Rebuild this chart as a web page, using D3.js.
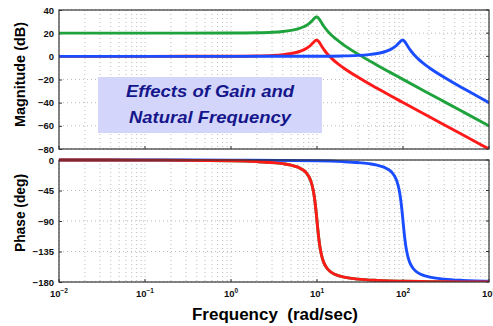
<!DOCTYPE html>
<html>
<head>
<meta charset="utf-8">
<script src="https://cdn.jsdelivr.net/npm/d3@7"></script>
<style>
  html, body { margin: 0; padding: 0; background: #fff; }
  svg { display: block; font-family: "Liberation Sans", Arial, Helvetica, sans-serif; }
</style>
</head>
<body>
<svg id="chart" width="493" height="326"></svg>
<script>
// ---------- Data ----------
// Frequencies (rad/sec) for the two curves with natural frequency 10 rad/s
const freqA = [0.01, 0.1, 1, 2, 3, 4, 5, 6, 7, 7.5, 8, 8.5, 9, 9.2, 9.5, 9.7, 9.8, 10, 10.2, 10.5, 10.8, 11, 11.5, 12, 13, 14, 15, 17, 20, 30, 50, 70, 100, 200, 300, 500, 1000];
const redMag = [0, 0.001, 0.09, 0.35, 0.80, 1.48, 2.42, 3.73, 5.53, 6.70, 8.09, 9.75, 11.64, 12.41, 13.41, 13.86, 13.98, 13.98, 13.64, 12.63, 11.29, 10.34, 8.04, 6.00, 2.65, 0.0, -2.18, -5.67, -9.62, -18.09, -27.61, -33.63, -39.91, -52.02, -59.08, -67.96, -80.0];
const greenMag = [20, 20.001, 20.09, 20.35, 20.80, 21.48, 22.42, 23.73, 25.53, 26.70, 28.09, 29.75, 31.64, 32.41, 33.41, 33.86, 33.98, 33.98, 33.64, 32.63, 31.29, 30.34, 28.04, 26.00, 22.65, 20.0, 17.82, 14.33, 10.38, 1.91, -7.61, -13.63, -19.91, -32.02, -39.08, -47.96, -60.0];
const redPhase = [-0.01, -0.11, -1.16, -2.39, -3.77, -5.44, -7.59, -10.62, -15.35, -18.92, -23.96, -31.49, -43.45, -50.14, -62.8, -73.06, -78.58, -90, -101.2, -116.0, -127.6, -133.67, -144.5, -151.4, -159.35, -163.74, -166.5, -169.8, -172.4, -175.7, -177.6, -178.33, -178.84, -179.43, -179.62, -179.77, -179.89];
const greenPhase = redPhase.slice();

// Frequencies (rad/sec) for the curve with natural frequency 100 rad/s
const freqB = [0.01, 0.1, 1, 10, 20, 30, 40, 50, 60, 70, 75, 80, 85, 90, 92, 95, 97, 98, 100, 102, 105, 108, 110, 115, 120, 130, 140, 150, 170, 200, 300, 500, 700, 1000];
const blueMag = [0, 0, 0.001, 0.09, 0.35, 0.80, 1.48, 2.42, 3.73, 5.53, 6.70, 8.09, 9.75, 11.64, 12.41, 13.41, 13.86, 13.98, 13.98, 13.64, 12.63, 11.29, 10.34, 8.04, 6.00, 2.65, 0.0, -2.18, -5.67, -9.62, -18.09, -27.61, -33.63, -39.91];
const bluePhase = [0, -0.01, -0.11, -1.16, -2.39, -3.77, -5.44, -7.59, -10.62, -15.35, -18.92, -23.96, -31.49, -43.45, -50.14, -62.8, -73.06, -78.58, -90, -101.2, -116.0, -127.6, -133.67, -144.5, -151.4, -159.35, -163.74, -166.5, -169.8, -172.4, -175.7, -177.6, -178.33, -178.84];

const xTickExps = [-2, -1, 0, 1, 2, 3];
const magTicks = [40, 20, 0, -20, -40, -60, -80];
const phaseTicks = [0, -45, -90, -135, -180];
const noteLines = ["Effects of Gain and", "Natural Frequency"];

// ---------- Layout ----------
const svg = d3.select("#chart");
const L = 59, R = 489;
const top1 = 10, bot1 = 149;
const top2 = 160, bot2 = 282;

const x = d3.scaleLog().domain([1e-2, 1e3]).range([L, R]);
const yMag = d3.scaleLinear().domain([-80, 40]).range([bot1, top1]);
const yPh = d3.scaleLinear().domain([-180, 0]).range([bot2, top2]);

const minorFreqs = [];
for (let e = -2; e < 3; e++) for (let m = 1; m <= 9; m++) minorFreqs.push(m * Math.pow(10, e));
minorFreqs.push(1000);

const fmtNum = v => (v < 0 ? "\u2212" + Math.abs(v) : String(v));

function panel(y, ticks, t, b, id) {
  const g = svg.append("g");
  // grid
  g.append("g").selectAll("line").data(minorFreqs).join("line")
    .attr("x1", d => x(d)).attr("x2", d => x(d))
    .attr("y1", t).attr("y2", b)
    .attr("stroke", "#aaaaaa").attr("stroke-width", 0.8).attr("stroke-dasharray", "1,3");
  g.append("g").selectAll("line").data(ticks).join("line")
    .attr("x1", L).attr("x2", R)
    .attr("y1", d => y(d)).attr("y2", d => y(d))
    .attr("stroke", "#aaaaaa").attr("stroke-width", 0.8).attr("stroke-dasharray", "1,3");
  // clip
  svg.append("clipPath").attr("id", id).append("rect")
    .attr("x", L).attr("y", t - 2).attr("width", R - L).attr("height", b - t + 2);
  // y axis
  const ax = g.append("g").attr("transform", `translate(${L},0)`)
    .call(d3.axisLeft(y).tickValues(ticks).tickSize(-3).tickPadding(5).tickFormat(fmtNum));
  ax.select(".domain").remove();
  ax.selectAll("line").attr("stroke", "#333");
  ax.selectAll("text").attr("font-size", 9.5).attr("font-weight", "bold").attr("fill", "#111")
    .attr("font-family", "Liberation Sans, Arial, sans-serif");
  // right ticks
  g.append("g").selectAll("line").data(ticks).join("line")
    .attr("x1", R - 3).attr("x2", R).attr("y1", d => y(d)).attr("y2", d => y(d)).attr("stroke", "#333");
  // x ticks inside
  g.append("g").selectAll("line").data(xTickExps).join("line")
    .attr("x1", d => x(Math.pow(10, d))).attr("x2", d => x(Math.pow(10, d)))
    .attr("y1", b).attr("y2", b - 3).attr("stroke", "#333");
  return g;
}

const g1 = panel(yMag, magTicks, top1, bot1, "clip1");
const g2 = panel(yPh, phaseTicks, top2, bot2, "clip2");

// ---------- Lines ----------
function drawLine(parent, clip, fx, fy, yScale, color) {
  const pts = fx.map((f, i) => [f, fy[i]]);
  const line = d3.line().x(d => x(d[0])).y(d => yScale(d[1])).curve(d3.curveMonotoneX);
  parent.append("path").datum(pts)
    .attr("clip-path", `url(#${clip})`)
    .attr("d", line).attr("fill", "none").attr("stroke", color)
    .attr("stroke-width", 2.9).attr("stroke-linejoin", "round").attr("stroke-linecap", "round");
}

const RED = "#ff1a1a", GREEN = "#1fa33c", BLUE = "#1a4dff";
drawLine(g1, "clip1", freqA, redMag, yMag, RED);
drawLine(g1, "clip1", freqA, greenMag, yMag, GREEN);
drawLine(g1, "clip1", freqB, blueMag, yMag, BLUE);

drawLine(g2, "clip2", freqA, greenPhase, yPh, GREEN);
drawLine(g2, "clip2", freqB, bluePhase, yPh, BLUE);
drawLine(g2, "clip2", freqA, redPhase, yPh, RED);

// ---------- Frames ----------
[[top1, bot1], [top2, bot2]].forEach(([t, b]) => {
  svg.append("rect").attr("x", L).attr("y", t).attr("width", R - L).attr("height", b - t)
    .attr("fill", "none").attr("stroke", "#333").attr("stroke-width", 1.2);
});

// ---------- X tick labels ----------
const xl = svg.append("g").selectAll("text").data(xTickExps).join("text")
  .attr("x", d => x(Math.pow(10, d)))
  .attr("y", 297)
  .attr("text-anchor", "middle")
  .attr("font-size", 9.5).attr("font-weight", "bold").attr("fill", "#111");
xl.append("tspan").text("10");
xl.append("tspan").attr("dy", -4.5).attr("font-size", 6.5).text(d => fmtNum(d));

// ---------- Axis titles ----------
svg.append("text").attr("transform", `translate(25,${(top1 + bot1) / 2 - 5}) rotate(-90)`)
  .attr("text-anchor", "middle").attr("font-size", 14.5).attr("font-weight", "bold").attr("fill", "#000")
  .attr("textLength", 105).attr("lengthAdjust", "spacingAndGlyphs")
  .text("Magnitude (dB)");
svg.append("text").attr("transform", `translate(25,${(top2 + bot2) / 2 - 8}) rotate(-90)`)
  .attr("text-anchor", "middle").attr("font-size", 14.5).attr("font-weight", "bold").attr("fill", "#000")
  .attr("textLength", 78).attr("lengthAdjust", "spacingAndGlyphs")
  .text("Phase (deg)");
svg.append("text").attr("x", 275).attr("y", 320)
  .attr("text-anchor", "middle").attr("font-size", 16).attr("font-weight", "bold").attr("fill", "#000")
  .attr("textLength", 166).attr("lengthAdjust", "spacingAndGlyphs")
  .attr("xml:space", "preserve").style("white-space", "pre")
  .text("Frequency  (rad/sec)");

// ---------- Annotation box ----------
svg.append("rect").attr("x", 98).attr("y", 77).attr("width", 224).attr("height", 56)
  .attr("fill", "#d3d6fa");
const noteWidths = [168, 162];
svg.append("g").selectAll("text").data(noteLines).join("text")
  .attr("x", 210).attr("y", (d, i) => 97 + i * 26)
  .attr("text-anchor", "middle")
  .attr("font-size", 17).attr("font-weight", "bold").attr("font-style", "italic")
  .attr("fill", "#16168c")
  .attr("textLength", (d, i) => noteWidths[i]).attr("lengthAdjust", "spacingAndGlyphs")
  .text(d => d);
</script>
</body>
</html>
